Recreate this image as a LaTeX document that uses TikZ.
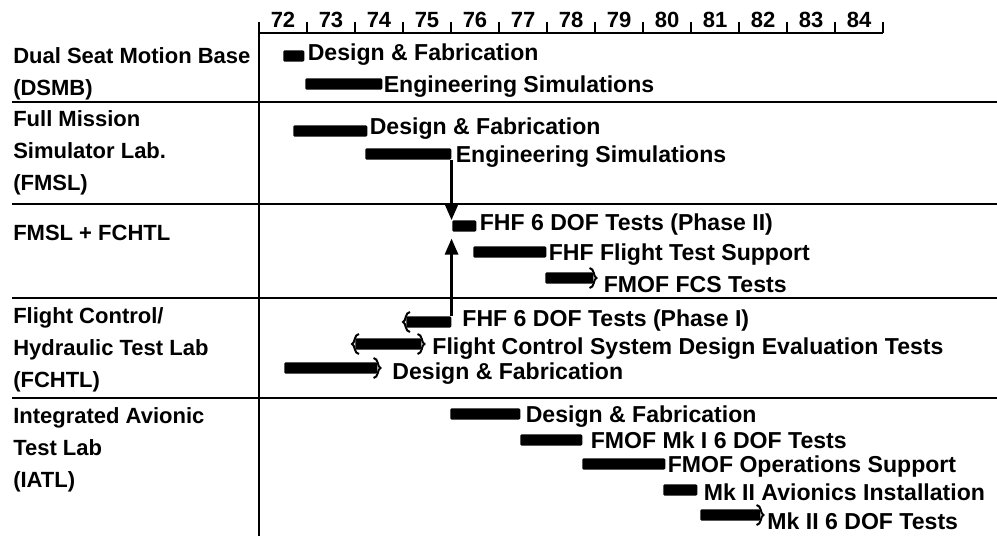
\documentclass[tikz,border=0pt]{standalone}
\usepackage{fontspec}
\setmainfont{Liberation Sans}
\usetikzlibrary{arrows.meta,positioning}

% curly ends on some bars
\newcommand{\curlR}[1]{\draw[curl] ([shift={(-4,-4)}]#1.north east) .. controls ([shift={(1,-4)}]#1.north east) and ([shift={(0,0)}]#1.east) .. ([shift={(3,0)}]#1.east) .. controls ([shift={(0,0)}]#1.east) and ([shift={(1,4)}]#1.south east) .. ([shift={(-4,4)}]#1.south east);}
\newcommand{\curlL}[1]{\draw[curl] ([shift={(4,-4)}]#1.north west) .. controls ([shift={(-1,-4)}]#1.north west) and ([shift={(0,0)}]#1.west) .. ([shift={(-3,0)}]#1.west) .. controls ([shift={(0,0)}]#1.west) and ([shift={(-1,4)}]#1.south west) .. ([shift={(4,4)}]#1.south west);}

\begin{document}
\begin{tikzpicture}[x=0.75pt,y=-0.75pt,>={Triangle[length=12pt,width=10pt]},
  bar/.style={fill=black,inner sep=0pt,rounded corners=1pt,minimum height=8.6pt,minimum width=#1*0.75pt,anchor=west},
  task/.style={anchor=west,inner sep=0pt,text height=12.2pt,text depth=0pt,font=\fontsize{17.3}{20}\selectfont\bfseries},
  lab/.style={anchor=north west,inner sep=0pt,align=left,font=\fontsize{16.5}{24}\selectfont\bfseries},
  yr/.style={inner sep=0pt,font=\fontsize{16.5}{18}\selectfont\bfseries},
  rule/.style={line width=1.8pt},
  curl/.style={line width=1.5pt},
  link/.style={line width=1.6pt,->}]
\useasboundingbox (0,0) rectangle (997,536);

% time scale
\draw[rule] (259,22) -- (259,536);
\draw[rule] (259,33) -- (883,33);
\foreach \yr [count=\i from 0] in {72,...,84}{
  \draw[rule] (259+48*\i+48,22) -- (259+48*\i+48,33);
  \node[yr] (y\yr) at (259+48*\i+24,20) {\yr};
}
\foreach \y in {102,204,298,398} \draw[rule] (12,\y) -- (997,\y);

% facilities
\node[lab] (dsmb) at (13,47) {Dual Seat Motion Base\\(DSMB)};
\node[lab] (fmsl) at (13,110) {Full Mission\\Simulator Lab.\\(FMSL)};
\node[lab] (both) at (13,225) {FMSL + FCHTL};
\node[lab] (fchtl) at (13,307) {Flight Control/\\Hydraulic Test Lab\\(FCHTL)};
\node[lab] (iatl) at (13,407) {Integrated Avionic\\Test Lab\\(IATL)};

% DSMB
\node[bar=21] (b1) at (283,56) {};
\node[task,right=2.25pt of b1,yshift=3pt] (t1) {Design \& Fabrication};
\node[bar=77] (b2) at (305,84) {};
\node[task,right=0.75pt of b2] (t2) {Engineering Simulations};

% FMSL
\node[bar=74] (b3) at (293,131) {};
\node[task,right=1.5pt of b3,yshift=3.75pt] (t3) {Design \& Fabrication};
\node[bar=86] (b4) at (365,154) {};
\node[task,right=3pt of b4] (t4) {Engineering Simulations};

% FMSL + FCHTL
\node[bar=24] (b5) at (452,226) {};
\node[task,right=2.25pt of b5,yshift=3pt] (t5) {FHF 6 DOF Tests (Phase II)};
\node[bar=73] (b6) at (473,252) {};
\node[task,right=1.5pt of b6] (t6) {FHF Flight Test Support};
\node[bar=48] (b7) at (545,278) {};
\node[task,right=7.5pt of b7,yshift=-4.5pt] (t7) {FMOF FCS Tests};
\curlR{b7}

% FCHTL
\node[bar=45] (b8) at (406,322) {};
\node[task,right=8pt of b8,yshift=3pt] (t8) {FHF 6 DOF Tests (Phase I)};
\curlL{b8}
\node[bar=66] (b9) at (355,344) {};
\node[task,right=8pt of b9,yshift=-1.5pt] (t9) {Flight Control System Design Evaluation Tests};
\curlL{b9}\curlR{b9}
\node[bar=93] (b10) at (284,368) {};
\node[task,right=11pt of b10,yshift=-2.25pt] (t10) {Design \& Fabrication};
\curlR{b10}

% IATL
\node[bar=70] (b11) at (450,414) {};
\node[task,right=3.75pt of b11] (t11) {Design \& Fabrication};
\node[bar=62] (b12) at (520,440) {};
\node[task,right=6pt of b12] (t12) {FMOF Mk I 6 DOF Tests};
\node[bar=83] (b13) at (582,464) {};
\node[task,right=1.5pt of b13] (t13) {FMOF Operations Support};
\node[bar=34] (b14) at (663,490) {};
\node[task,right=4.5pt of b14,yshift=-1.5pt] (t14) {Mk II Avionics Installation};
\node[bar=60] (b15) at (700,515) {};
\node[task,right=5pt of b15,yshift=-5pt] (t15) {Mk II 6 DOF Tests};
\curlR{b15}

% hand-over arrows
\draw[link] (b4.south east) -- (b4.south east |- b5.north);
\draw[link,shorten >=5pt] (b8.north east) -- (b8.north east |- b5.south);
\end{tikzpicture}
\end{document}
